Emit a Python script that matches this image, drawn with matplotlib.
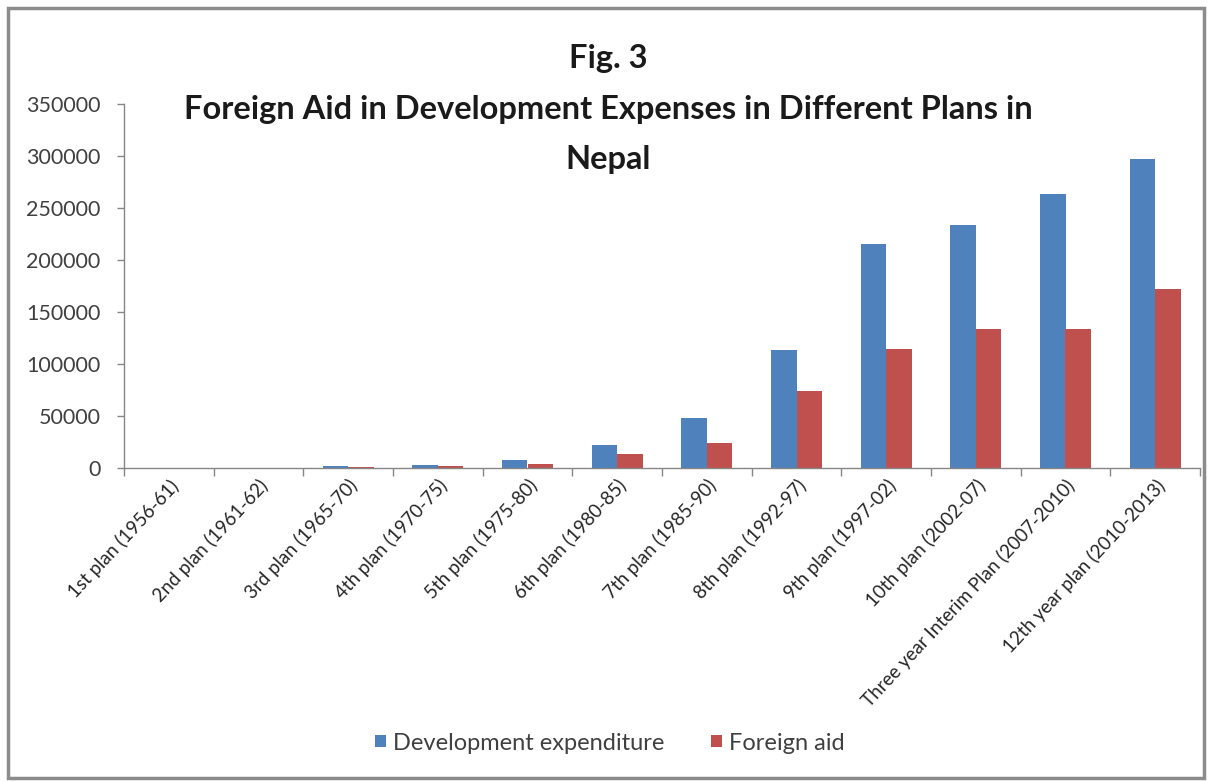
import matplotlib
matplotlib.use("Agg")
import matplotlib.pyplot as plt
import numpy as np
from matplotlib.patches import Rectangle

plt.rcParams['font.family'] = ['Lato', 'DejaVu Sans']

categories = ["1st plan (1956-61)", "2nd plan (1961-62)", "3rd plan (1965-70)",
              "4th plan (1970-75)", "5th plan (1975-80)", "6th plan (1980-85)",
              "7th plan (1985-90)", "8th plan (1992-97)", "9th plan (1997-02)",
              "10th plan (2002-07)", "Three year Interim Plan (2007-2010)",
              "12th year plan (2010-2013)"]
development_expenditure = [380, 60, 1700, 3000, 8000, 22000, 48000, 113000,
                           215000, 234000, 263000, 297000]
foreign_aid = [200, 30, 600, 1600, 4000, 13000, 24000, 74000, 114000,
               134000, 134000, 172000]
y_ticks = [0, 50000, 100000, 150000, 200000, 250000, 300000, 350000]
series_names = ["Development expenditure", "Foreign aid"]
title_text = "Fig. 3\nForeign Aid in Development Expenses in Different Plans in\nNepal"

W, H = 1208, 781
fig = plt.figure(figsize=(W / 100, H / 100), dpi=100)
fig.patch.set_facecolor('white')

# chart area border
fig.patches.append(Rectangle((8 / W, 3 / H), 1196 / W, 770 / H, transform=fig.transFigure,
                             fill=False, edgecolor='#8c8c8c', linewidth=2.5, zorder=0))

ax = fig.add_axes([124 / W, 1 - 468 / H, 1076 / W, 364 / H])
x = np.arange(len(categories))
bw = 0.2857
blue = '#4F81BD'
red = '#C0504D'
ax.bar(x - bw / 2, development_expenditure, width=bw, color=blue, label=series_names[0], zorder=2)
ax.bar(x + bw / 2, foreign_aid, width=bw, color=red, label=series_names[1], zorder=2)

ax.set_xlim(-0.5, len(categories) - 0.5)
ax.set_ylim(0, 350000)
ax.set_yticks(y_ticks)
ax.set_yticklabels([str(v) for v in y_ticks], fontsize=15.5, color='#404040')
ax.tick_params(axis='y', direction='out', length=5, width=1, color='#868686', pad=12)

ax.set_xticks(np.arange(len(categories) + 1) - 0.5, minor=False)
ax.set_xticklabels([])
ax.set_xticks(x, minor=True)
ax.set_xticklabels(categories, minor=True, rotation=47, ha='right', va='top',
                   rotation_mode='anchor', fontsize=13.5, color='#262626')
ax.tick_params(axis='x', which='major', direction='out', length=6, width=1, color='#868686')
ax.tick_params(axis='x', which='minor', length=0, pad=6)

for s in ['top', 'right']:
    ax.spines[s].set_visible(False)
for s in ['left', 'bottom']:
    ax.spines[s].set_color('#868686')
    ax.spines[s].set_linewidth(1)

fig.text(608 / W, 1 - 44 / H, title_text, ha='center', va='top', fontsize=23.5,
         fontweight='bold', color='#1a1a1a', linespacing=1.9, zorder=5)

leg = fig.legend(loc='center', bbox_to_anchor=(610 / W, 1 - 743 / H), ncol=2, frameon=False,
                 fontsize=17, handlelength=0.45, handleheight=0.45, handletextpad=0.3,
                 columnspacing=2.0, labelcolor='#404040')

fig.savefig("out.png", dpi=100, facecolor='white')
